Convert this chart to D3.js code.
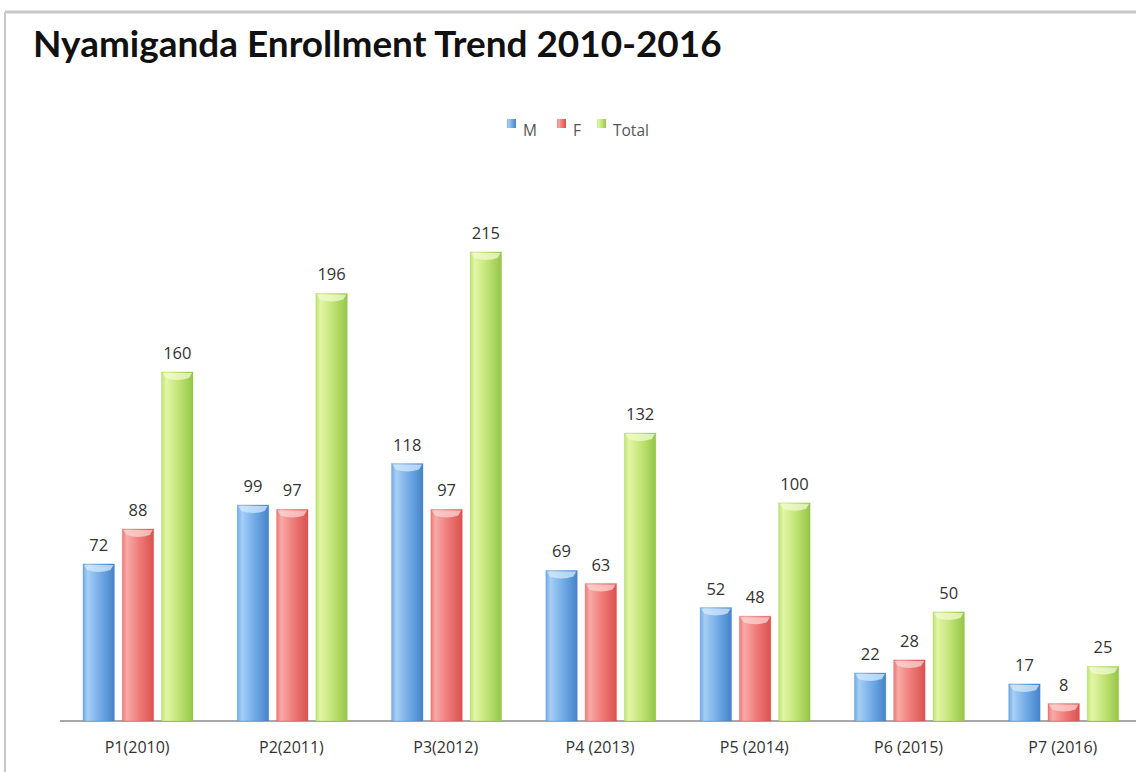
<!DOCTYPE html>
<html><head><meta charset="utf-8">
<script src="https://cdn.jsdelivr.net/npm/d3@7"></script>
<style>body{margin:0;background:#fff}svg{display:block}</style>
</head><body>
<svg id="c" width="1136" height="772"></svg>
<script>
const categories = ["P1(2010)","P2(2011)","P3(2012)","P4 (2013)","P5 (2014)","P6 (2015)","P7 (2016)"];
const seriesNames = ["M","F","Total"];
const mValues = [72,99,118,69,52,22,17];
const fValues = [88,97,97,63,48,28,8];
const totalValues = [160,196,215,132,100,50,25];
const title = "Nyamiganda Enrollment Trend 2010-2016";

const series = [mValues, fValues, totalValues];
const colors = {
  M: {light:"#a6cff5", mid:"#72abe6", dark:"#4583c8", top:"#d6eafc"},
  F: {light:"#f8aaa7", mid:"#ee7a77", dark:"#da524f", top:"#fcd6d4"},
  Total: {light:"#e2f6a6", mid:"#c0e374", dark:"#95c549", top:"#f2fbcf"}
};

const svg = d3.select("#c");
const defs = svg.append("defs");
seriesNames.forEach(s => {
  const c = colors[s];
  const g = defs.append("linearGradient").attr("id","g"+s).attr("x1","0").attr("x2","1").attr("y1","0").attr("y2","0");
  g.append("stop").attr("offset","0").attr("stop-color",c.mid);
  g.append("stop").attr("offset","0.15").attr("stop-color",c.light);
  g.append("stop").attr("offset","0.55").attr("stop-color",c.mid);
  g.append("stop").attr("offset","1").attr("stop-color",c.dark);
});

// frame
svg.append("line").attr("x1",5).attr("x2",1136).attr("y1",12).attr("y2",12).attr("stroke","#c8c8c8").attr("stroke-width",3);
svg.append("line").attr("x1",5).attr("x2",5).attr("y1",12).attr("y2",772).attr("stroke","#c8c8c8").attr("stroke-width",2);

// title
const t = svg.append("text").attr("x",33).attr("y",57).attr("font-family","Lato, 'Open Sans', sans-serif")
  .attr("font-weight","bold").attr("font-size",30).attr("fill","#111").text(title);
const tw = t.node().getComputedTextLength();
t.attr("font-size", 30*689/tw);

const baseY = 721;
const y = d3.scaleLinear().domain([0,215]).range([baseY, 252]);
const x0 = d3.scaleBand().domain(categories).range([60, 1140]);
const x1 = d3.scaleBand().domain(seriesNames).range([23, 133]).paddingInner(0.2);
const font = "'Open Sans', 'DejaVu Sans', sans-serif";

// axis baseline
svg.append("g").attr("transform",`translate(0,${baseY})`)
  .call(d3.axisBottom(x0).tickSize(0).tickPadding(21))
  .call(g => { g.select(".domain").attr("stroke","#a8a8a8").attr("stroke-width",2).attr("d","M60,0H1136");
    g.selectAll("text").attr("font-family",font).attr("font-size",16).attr("fill","#333"); });

const groups = svg.append("g").selectAll("g").data(categories).join("g")
  .attr("transform", d => `translate(${x0(d)},0)`);

seriesNames.forEach((s, si) => {
  const vals = series[si];
  const bw = x1.bandwidth();
  groups.append("rect")
    .attr("x", x1(s)).attr("width", bw)
    .attr("y", (d,i) => y(vals[i])).attr("height", (d,i) => baseY - y(vals[i]))
    .attr("fill", `url(#g${s})`).attr("stroke", colors[s].dark).attr("stroke-opacity",0.3).attr("stroke-width",1);
  // top bevel highlight
  groups.append("path")
    .attr("d", (d,i) => {
      const top = y(vals[i]); const xl = x1(s), xr = x1(s)+bw;
      const h = Math.min(6, (baseY-top)/2);
      return `M${xl+1},${top+1}H${xr-1}L${xr-4},${top+h}Q${xl+bw/2},${top+h+4} ${xl+4},${top+h}Z`;
    })
    .attr("fill", colors[s].top).attr("opacity",0.75);
  groups.append("text")
    .attr("x", x1(s)+bw/2).attr("y", (d,i) => y(vals[i]) - 13)
    .attr("text-anchor","middle").attr("font-family",font)
    .attr("font-size",16.5).attr("fill","#333").text((d,i) => vals[i]);
});

// legend
const legendItems = [{s:"M",x:507},{s:"F",x:557},{s:"Total",x:597}];
const lg = svg.append("g");
legendItems.forEach(it => {
  lg.append("rect").attr("x",it.x).attr("y",119).attr("width",9).attr("height",9).attr("fill",`url(#g${it.s})`);
  lg.append("text").attr("x",it.x+16).attr("y",136).attr("font-family",font)
    .attr("font-size",15.5).attr("fill","#555").text(it.s);
});
</script>
</body></html>
